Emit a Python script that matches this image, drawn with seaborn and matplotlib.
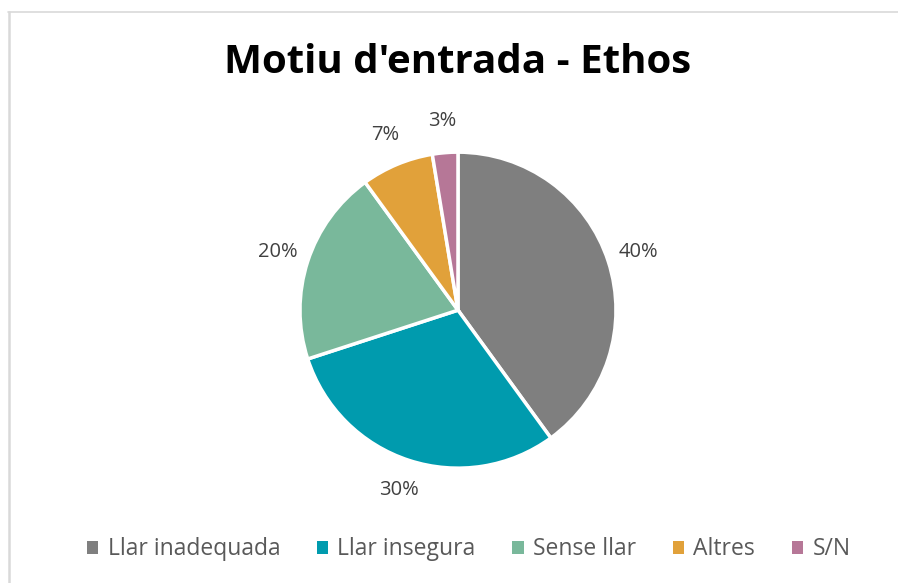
import matplotlib
matplotlib.use('Agg')
import matplotlib.pyplot as plt
import seaborn as sns
from matplotlib.patches import Patch
from matplotlib.lines import Line2D

# data
categories = ['Llar inadequada', 'Llar insegura', 'Sense llar', 'Altres', 'S/N']
values = [40, 30, 20, 7.4, 2.6]
colors = ['#7F7F7F', '#009BAE', '#79B89B', '#E1A13A', '#B67797']

sns.set_theme(style='white')
plt.rcParams['font.family'] = ['Open Sans', 'DejaVu Sans']

fig = plt.figure(figsize=(8.98, 5.83), dpi=100)
ax = fig.add_axes([0.334, 0.197, 0.352, 0.542])

wedges, texts, autotexts = ax.pie(
    values, colors=colors, startangle=90, counterclock=False,
    autopct='%.0f%%', pctdistance=1.2,
    wedgeprops=dict(edgecolor='white', linewidth=2.5),
    textprops=dict(color='#404040', fontsize=14.5))
ax.set_aspect('equal')
ax.set_xlim(-1, 1)
ax.set_ylim(-1, 1)
for t in autotexts:
    t.set_clip_on(False)

fig.text(0.51, 0.893, "Motiu d'entrada - Ethos", ha='center', va='center',
         fontsize=29, fontweight='bold', color='black')

handles = [Patch(facecolor=c, edgecolor='none') for c in colors]
fig.legend(handles, categories, loc='center', bbox_to_anchor=(0.522, 0.058),
           ncol=5, frameon=False, fontsize=16.5, handlelength=0.5,
           handleheight=0.5, handletextpad=0.4, columnspacing=1.6,
           labelcolor='#595959')

# chart area border (left and top visible)
fig.add_artist(Line2D([0.0095, 0.0095], [0, 0.98], color='#D9D9D9', lw=1.8,
                      transform=fig.transFigure))
fig.add_artist(Line2D([0.0085, 1.0], [0.98, 0.98], color='#D9D9D9', lw=1.2,
                      transform=fig.transFigure))

fig.savefig('out.png', dpi=100, facecolor='white')
